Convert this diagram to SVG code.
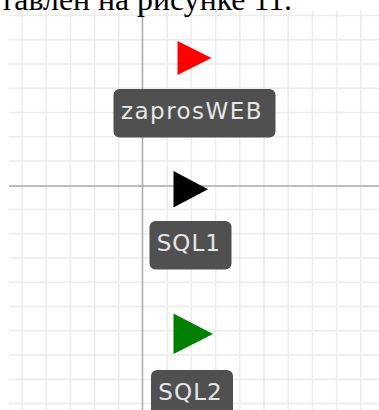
<svg xmlns="http://www.w3.org/2000/svg" width="379" height="410" viewBox="0 0 379 410">
  <style>
    .grid { stroke: #ececec; stroke-width: 1.6; fill: none; }
    .axis { stroke: #a9a9a9; stroke-width: 1.5; fill: none; }
    .tag { fill: #505050; }
    .tag-text { fill: #e6e6e6; font-family: "DejaVu Sans", sans-serif; font-size: 23px; }
    .caption { fill: #000; font-family: "Liberation Serif", "Times New Roman", serif; font-size: 31px; }
  </style>
  <rect width="379" height="410" fill="#ffffff"/>

  <!-- background grid -->
  <g id="grid">
    <path class="grid" d="M22 10V410M46.2 10V410M70.4 10V410M94.6 10V410M118.8 10V410M167.2 10V410M191.4 10V410M215.6 10V410M239.8 10V410M264 10V410M288.2 10V410M312.4 10V410M336.6 10V410M360.8 10V410"/>
    <path class="grid" d="M9 15.5H379M9 39.75H379M9 64H379M9 88.25H379M9 112.5H379M9 136.75H379M9 161H379M9 209.5H379M9 233.75H379M9 258H379M9 282.25H379M9 306.5H379M9 330.75H379M9 355H379M9 379.25H379M9 403.5H379"/>
    <path class="axis" d="M142.5 10V410M9 186H379"/>
  </g>

  <!-- running text above the canvas -->
  <text class="caption" x="0" y="10" textLength="292" lengthAdjust="spacingAndGlyphs">тавлен на рисунке 11.</text>

  <g id="connectors"/>

  <g id="zaprosWEB">
    <polygon points="177.5,41 177.5,75 211.5,58" fill="#ff0000"/>
    <rect class="tag" x="113.5" y="89" width="162" height="48.5" rx="6"/>
    <text class="tag-text" x="121" y="119" textLength="140.5" lengthAdjust="spacing">zaprosWEB</text>
  </g>

  <g id="SQL1">
    <polygon points="173.5,171 173.5,207.5 208,189.3" fill="#000000"/>
    <rect class="tag" x="149.5" y="221" width="82" height="48.5" rx="6"/>
    <text class="tag-text" x="156.7" y="251" textLength="63.3" lengthAdjust="spacing">SQL1</text>
  </g>

  <g id="SQL2">
    <polygon points="173.5,313.5 173.5,354 213,334" fill="#008000"/>
    <rect class="tag" x="151" y="370" width="82" height="48.5" rx="6"/>
    <text class="tag-text" x="158.3" y="400" textLength="63.4" lengthAdjust="spacing">SQL2</text>
  </g>
</svg>
